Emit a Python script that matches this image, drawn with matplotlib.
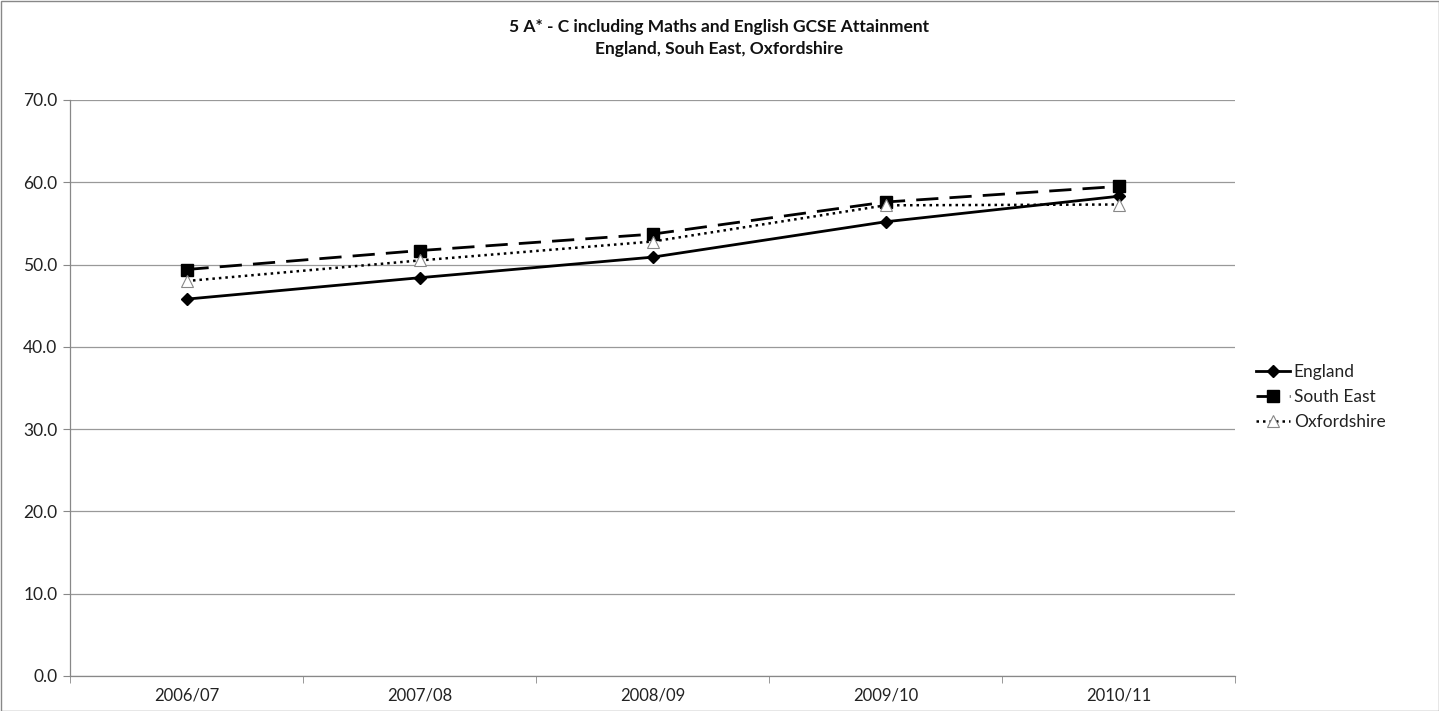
import matplotlib
matplotlib.use("Agg")
import matplotlib.pyplot as plt
from matplotlib.patches import Rectangle

years = ["2006/07", "2007/08", "2008/09", "2009/10", "2010/11"]
england = [45.8, 48.4, 50.9, 55.2, 58.3]
south_east = [49.4, 51.7, 53.7, 57.6, 59.5]
oxfordshire = [48.0, 50.5, 52.8, 57.2, 57.3]
y_ticks = [0, 10, 20, 30, 40, 50, 60, 70]

plt.rcParams['font.family'] = ['Lato', 'DejaVu Sans']

fig = plt.figure(figsize=(14.39, 7.11), dpi=100)
ax = fig.add_axes([70/1439, 1-676/711, (1235-70)/1439, (676-100)/711])

x = list(range(len(years)))
ax.plot(x, england, color='black', lw=2.0, marker='D', ms=6.5, mfc='black', mec='black',
        label='England', zorder=4)
ax.plot(x, south_east, color='black', lw=2.0, ls=(0, (8, 4)), marker='s', ms=8, mfc='black',
        mec='black', label='South East', zorder=3)
ax.plot(x, oxfordshire, color='black', lw=1.8, ls=(0, (1, 1.6)), marker='^', ms=9, mfc='white',
        mec='#888888', mew=0.8, label='Oxfordshire', zorder=5)

ax.set_xlim(-0.5, len(years) - 0.5)
ax.set_ylim(0, 70)
ax.set_yticks(y_ticks)
ax.set_yticklabels([f"{v:.1f}" for v in y_ticks], fontsize=12.5, color='#222222')
ax.set_xticks(x)
ax.set_xticklabels(years, fontsize=12, color='#222222')
ax.set_xticks([i - 0.5 for i in range(len(years) + 1)], minor=True)
ax.tick_params(axis='x', which='major', length=0, pad=8)
ax.tick_params(axis='x', which='minor', length=5, color='#888888', direction='out')
ax.tick_params(axis='y', length=5, color='#888888', direction='out', pad=4)

ax.grid(axis='y', color='#999999', lw=0.9)
ax.set_axisbelow(True)
for s in ['top', 'right']:
    ax.spines[s].set_visible(False)
for s in ['left', 'bottom']:
    ax.spines[s].set_color('#888888')
    ax.spines[s].set_linewidth(0.9)

fig.text(0.5, 1-27/711, "5 A* - C including Maths and English GCSE Attainment",
         ha='center', va='center', fontsize=12.5, fontweight='bold', color='#111111')
fig.text(0.5, 1-49/711, "England, Souh East, Oxfordshire",
         ha='center', va='center', fontsize=12.5, fontweight='bold', color='#111111')

leg = fig.legend(loc='center left', bbox_to_anchor=(1240/1439, 1-397/711), frameon=False,
                 fontsize=12.5, handlelength=2.0, handletextpad=0.2, labelspacing=0.5,
                 labelcolor='#222222')

fig.patches.append(Rectangle((0.5/1439, 0.5/711), 1-1/1439, 1-1/711, transform=fig.transFigure,
                             fill=False, edgecolor='#888888', lw=1.0))

fig.savefig("out.png", dpi=100, facecolor='white')
